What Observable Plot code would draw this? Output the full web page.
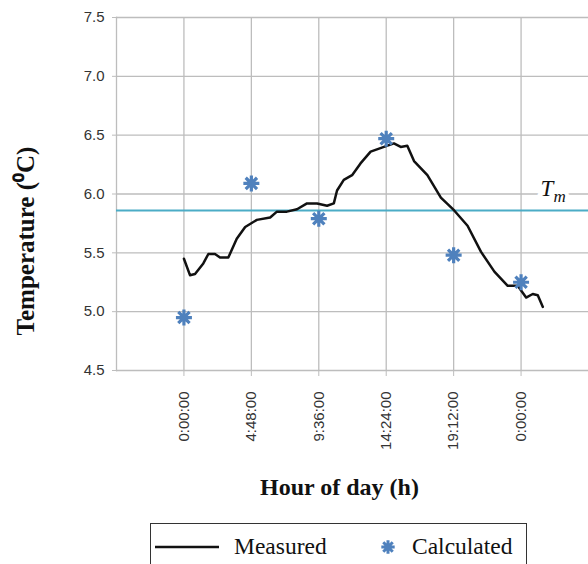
<!DOCTYPE html>
<html>
<head>
<meta charset="utf-8">
<script src="https://cdn.jsdelivr.net/npm/d3@7"></script>
<script src="https://cdn.jsdelivr.net/npm/@observablehq/plot@0.6"></script>
<style>
  html, body { margin: 0; padding: 0; background: #fff; overflow: hidden; }
  #chart { position: relative; width: 588px; height: 564px; }
  #legend {
    position: absolute; left: 150px; top: 523px; width: 377px; height: 60px;
    border: 1.5px solid #333; box-sizing: border-box;
    font-family: "Liberation Serif", "Times New Roman", serif; font-size: 23.5px; color: #111;
  }
  #legend .item { position: absolute; top: 9px; display: flex; align-items: center; }
  #legend svg { display: block; }
</style>
</head>
<body>
<div id="chart"></div>
<script>
// ---- data ----
const tickHours = [0, 4.8, 9.6, 14.4, 19.2, 24];
const tickLabels = ["0:00:00", "4:48:00", "9:36:00", "14:24:00", "19:12:00", "0:00:00"];
const yTicks = [4.5, 5.0, 5.5, 6.0, 6.5, 7.0, 7.5];
const Tm = 5.86;

const measuredHours = [0, 0.43, 0.79, 1.38, 1.74, 2.21, 2.57, 3.16, 3.76, 4.36, 5.19, 6.14, 6.62, 7.33, 8.05, 8.76, 9.48, 10.19, 10.67, 10.9, 11.38, 11.97, 12.57, 13.29, 14.24, 14.95, 15.43, 15.9, 16.38, 17.33, 18.29, 19.24, 20.19, 21.14, 22.1, 23.05, 23.76, 24.36, 24.83, 25.19, 25.55];
const measuredTemps = [5.45, 5.31, 5.32, 5.41, 5.49, 5.49, 5.46, 5.46, 5.62, 5.72, 5.78, 5.80, 5.85, 5.85, 5.87, 5.92, 5.92, 5.90, 5.92, 6.03, 6.12, 6.16, 6.26, 6.36, 6.40, 6.43, 6.40, 6.41, 6.28, 6.16, 5.97, 5.86, 5.73, 5.51, 5.34, 5.22, 5.22, 5.12, 5.15, 5.14, 5.04];

const calcHours = [0, 4.8, 9.6, 14.4, 19.2, 24];
const calcTemps = [4.95, 6.09, 5.79, 6.47, 5.48, 5.25];

// ---- tables built from the arrays ----
const measured = measuredHours.map((h, i) => ({h, t: measuredTemps[i]}));
const calculated = calcHours.map((h, i) => ({h, t: calcTemps[i]}));
const xTickTable = tickHours.map((h, i) => ({h, label: tickLabels[i]}));

const gridColor = "#bdbdbd";
const starColor = "#4f81bd";
const tmColor = "#4bacc6";

// 8-spoke asterisk symbol
const asterisk = {
  draw(context, size) {
    const r = Math.sqrt(size / Math.PI);
    for (let k = 0; k < 4; k++) {
      const a = k * Math.PI / 4;
      const dx = r * Math.cos(a), dy = r * Math.sin(a);
      context.moveTo(-dx, -dy);
      context.lineTo(dx, dy);
    }
  }
};

const chart = Plot.plot({
  width: 588,
  height: 520,
  marginLeft: 116,
  marginRight: 0,
  marginTop: 17,
  marginBottom: 150,
  style: {fontFamily: "Liberation Sans, Arial, sans-serif", background: "#fff"},
  x: {domain: [-4.8, 28.8]},
  y: {domain: [4.5, 7.5]},
  marks: [
    Plot.gridX(tickHours, {stroke: gridColor, strokeOpacity: 1, strokeWidth: 1.3}),
    Plot.gridY(yTicks, {stroke: gridColor, strokeOpacity: 1, strokeWidth: 1.3}),
    Plot.frame({anchor: "left", stroke: gridColor, strokeWidth: 1.3}),
    Plot.axisY({ticks: yTicks, tickFormat: d => d.toFixed(1), tickSize: 4, tickPadding: 8,
      fontSize: 15, color: "#333", stroke: gridColor, label: null}),
    Plot.axisX({ticks: tickHours, tickFormat: () => "", tickSize: 6, stroke: gridColor, label: null}),
    Plot.text(xTickTable, {x: "h", text: "label", frameAnchor: "bottom", dy: 21, rotate: -90,
      textAnchor: "end", lineAnchor: "middle", fontSize: 15, fill: "#333"}),
    Plot.ruleY([Tm], {stroke: tmColor, strokeWidth: 2}),
    Plot.text(["T"], {frameAnchor: "right", y: () => Tm, dx: -48, dy: -22, fontStyle: "italic",
      fontFamily: "Liberation Serif, serif", fontSize: 23, fill: "#111", stroke: "white", strokeWidth: 10,
      textAnchor: "start", paintOrder: "stroke"}),
    Plot.text(["m"], {frameAnchor: "right", y: () => Tm, dx: -35, dy: -14, fontStyle: "italic",
      fontFamily: "Liberation Serif, serif", fontSize: 17, fill: "#111", stroke: "white", strokeWidth: 8,
      textAnchor: "start", paintOrder: "stroke"}),
    Plot.line(measured, {x: "h", y: "t", stroke: "#111", strokeWidth: 2.5, strokeLinejoin: "round"}),
    Plot.dot(calculated, {x: "h", y: "t", symbol: asterisk, r: 8, stroke: starColor, strokeWidth: 3.2}),
    Plot.text(["Temperature (⁰C)"], {frameAnchor: "left", rotate: -90, dx: -91, dy: 47, textAnchor: "middle",
      fontFamily: "Liberation Serif, serif", fontWeight: "bold", fontSize: 25, fill: "#111"}),
    Plot.text(["Hour of day (h)"], {frameAnchor: "bottom", dy: 124, dx: -13,
      fontFamily: "Liberation Serif, serif", fontWeight: "bold", fontSize: 24, fill: "#111"})
  ]
});
document.getElementById("chart").appendChild(chart);

// legend (HTML below the plot)
const legend = document.createElement("div");
legend.id = "legend";
legend.innerHTML = `
  <div class="item" style="left:4px"><svg width="64" height="22"><line x1="0" x2="64" y1="11" y2="11" stroke="#111" stroke-width="2.5"/></svg><span style="margin-left:15px">Measured</span></div>
  <div class="item" style="left:226px"><svg width="22" height="22" id="legstar"></svg><span style="margin-left:13px">Calculated</span></div>`;
document.getElementById("chart").appendChild(legend);
const ls = d3.select("#legstar");
const p = d3.path(); asterisk.draw(p, 8 * 8 * Math.PI * 0.7);
ls.append("path").attr("d", p.toString()).attr("transform", "translate(11,11)")
  .attr("stroke", starColor).attr("stroke-width", 3);
</script>
</body>
</html>
